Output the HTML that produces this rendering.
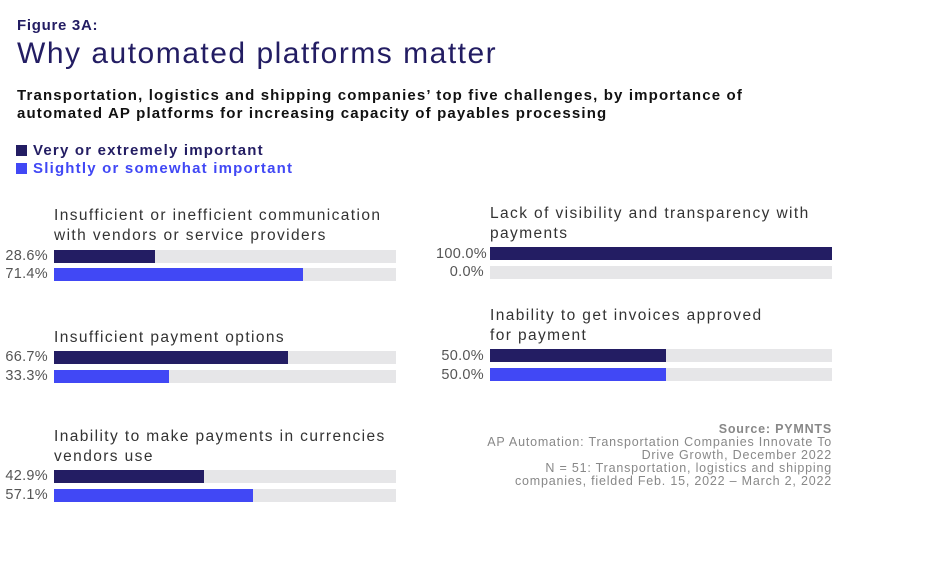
<!DOCTYPE html>
<html><head><meta charset="utf-8"><style>
body{margin:0;width:936px;height:572px;background:#fff;position:relative;overflow:hidden;font-family:"Liberation Sans",sans-serif}
.a{position:absolute;white-space:nowrap}
.lab{font-size:15.5px;color:#333;line-height:19.5px;letter-spacing:1.4px}
.pct{font-size:14.5px;color:#555;text-align:right;width:48px;line-height:13px;letter-spacing:0.3px}
.bg{position:absolute;background:#e6e6e8;height:13px}
.b{position:absolute;left:0;top:0;height:13px}
.d{background:#231d63}.l{background:#4148f5}
.src{font-size:12.5px;color:#888;text-align:right;line-height:13px;right:104px;letter-spacing:0.8px}
</style></head><body>
<div class="a" style="left:17px;top:17px;font-size:15px;font-weight:bold;color:#231d63;letter-spacing:0.7px">Figure 3A:</div>
<div class="a" style="left:17px;top:37px;font-size:30px;color:#231d63;letter-spacing:1.5px">Why automated platforms matter</div>
<div class="a" style="left:17px;top:87px;font-size:15px;font-weight:bold;color:#111;line-height:18px;letter-spacing:1.15px">Transportation, logistics and shipping companies’ top five challenges, by importance of<br>automated AP platforms for increasing capacity of payables processing</div>
<div class="a" style="left:16px;top:145px;width:11px;height:11px;background:#231d63"></div>
<div class="a" style="left:33px;top:142px;font-size:15px;font-weight:bold;color:#231d63;letter-spacing:1.2px">Very or extremely important</div>
<div class="a" style="left:16px;top:163px;width:11px;height:11px;background:#4148f5"></div>
<div class="a" style="left:33px;top:160px;font-size:15px;font-weight:bold;color:#4148f5;letter-spacing:1.2px">Slightly or somewhat important</div>

<div class="a lab" style="left:54px;top:206px">Insufficient or inefficient communication<br>with vendors or service providers</div>
<div class="a pct" style="left:0;top:250px">28.6%</div><div class="bg" style="left:54px;top:250px;width:342px"><div class="b d" style="width:101px"></div></div>
<div class="a pct" style="left:0;top:268px">71.4%</div><div class="bg" style="left:54px;top:268px;width:342px"><div class="b l" style="width:249px"></div></div>

<div class="a lab" style="left:54px;top:328px">Insufficient payment options</div>
<div class="a pct" style="left:0;top:351px">66.7%</div><div class="bg" style="left:54px;top:351px;width:342px"><div class="b d" style="width:234px"></div></div>
<div class="a pct" style="left:0;top:370px">33.3%</div><div class="bg" style="left:54px;top:370px;width:342px"><div class="b l" style="width:115px"></div></div>

<div class="a lab" style="left:54px;top:427px">Inability to make payments in currencies<br>vendors use</div>
<div class="a pct" style="left:0;top:470px">42.9%</div><div class="bg" style="left:54px;top:470px;width:342px"><div class="b d" style="width:150px"></div></div>
<div class="a pct" style="left:0;top:489px">57.1%</div><div class="bg" style="left:54px;top:489px;width:342px"><div class="b l" style="width:199px"></div></div>

<div class="a lab" style="left:490px;top:204px">Lack of visibility and transparency with<br>payments</div>
<div class="a pct" style="left:436px;top:248px">100.0%</div><div class="bg" style="left:490px;top:247px;width:342px"><div class="b d" style="width:342px"></div></div>
<div class="a pct" style="left:436px;top:266px">0.0%</div><div class="bg" style="left:490px;top:266px;width:342px"></div>

<div class="a lab" style="left:490px;top:306px">Inability to get invoices approved<br>for payment</div>
<div class="a pct" style="left:436px;top:350px">50.0%</div><div class="bg" style="left:490px;top:349px;width:342px"><div class="b d" style="width:176px"></div></div>
<div class="a pct" style="left:436px;top:369px">50.0%</div><div class="bg" style="left:490px;top:368px;width:342px"><div class="b l" style="width:176px"></div></div>

<div class="a src" style="top:423px;font-weight:bold;color:#888">Source: PYMNTS</div>
<div class="a src" style="top:436px">AP Automation: Transportation Companies Innovate To<br>Drive Growth, December 2022<br>N = 51: Transportation, logistics and shipping<br>companies, fielded Feb. 15, 2022 – March 2, 2022</div>
</body></html>
